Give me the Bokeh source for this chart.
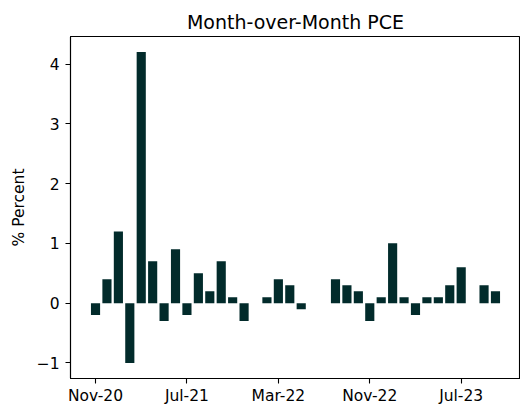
from datetime import datetime
from bokeh.plotting import figure
from bokeh.models import FixedTicker, Range1d, ColumnDataSource
from bokeh.embed import file_html
from bokeh.resources import INLINE

# ---- data ----
months = ["2020-11", "2020-12", "2021-01", "2021-02", "2021-03", "2021-04",
          "2021-05", "2021-06", "2021-07", "2021-08", "2021-09", "2021-10",
          "2021-11", "2021-12", "2022-01", "2022-02", "2022-03", "2022-04",
          "2022-05", "2022-06", "2022-07", "2022-08", "2022-09", "2022-10",
          "2022-11", "2022-12", "2023-01", "2023-02", "2023-03", "2023-04",
          "2023-05", "2023-06", "2023-07", "2023-08", "2023-09", "2023-10"]
pce_mom = [-0.2, 0.4, 1.2, -1.0, 4.2, 0.7,
           -0.3, 0.9, -0.2, 0.5, 0.2, 0.7,
           0.1, -0.3, 0.0, 0.1, 0.4, 0.3,
           -0.1, 0.0, 0.0, 0.4, 0.3, 0.2,
           -0.3, 0.1, 1.0, 0.1, -0.2, 0.1,
           0.1, 0.3, 0.6, 0.0, 0.3, 0.2]
x_tick_labels = ["Nov-20", "Jul-21", "Mar-22", "Nov-22", "Jul-23"]
y_ticks = [-1, 0, 1, 2, 3, 4]

BASE = datetime(2020, 11, 1)


def month_index(d):
    return (d.year - BASE.year) * 12 + (d.month - BASE.month)


x = [month_index(datetime.strptime(m, "%Y-%m")) for m in months]
x_tick_pos = [month_index(datetime.strptime(t, "%b-%y")) for t in x_tick_labels]

bar_w = 0.8
x0, x1 = min(x) - bar_w / 2, max(x) + bar_w / 2
xpad = 0.05 * (x1 - x0)
y0, y1 = min(pce_mom + [0]), max(pce_mom + [0])
ypad = 0.05 * (y1 - y0)

src = ColumnDataSource(dict(x=x, top=pce_mom))

FONT = "DejaVu Sans"
TICK_SIZE = "15.5px"

p = figure(width=520, height=410, output_backend="svg", toolbar_location=None,
           x_range=Range1d(x0 - xpad, x1 + xpad), y_range=Range1d(y0 - ypad, y1 + ypad),
           min_border_left=70, min_border_right=0, min_border_top=36, min_border_bottom=32,
           title="Month-over-Month PCE")
p.outline_line_color = "black"
p.outline_line_width = 1.1
p.background_fill_color = "white"
p.border_fill_color = "white"
p.grid.visible = False

p.title.text_font = FONT
p.title.text_font_size = "19px"
p.title.text_font_style = "normal"
p.title.align = "center"
p.title.text_color = "black"
p.title.standoff = 8

p.vbar(x="x", top="top", bottom=0, width=bar_w, source=src,
       fill_color="#022b2b", line_color=None)

# bottom axis
xa = p.xaxis[0]
xa.ticker = FixedTicker(ticks=x_tick_pos)
xa.major_label_overrides = {pos: lab for pos, lab in zip(x_tick_pos, x_tick_labels)}
# left axis
ya = p.yaxis[0]
ya.ticker = FixedTicker(ticks=y_ticks)
ya.major_label_overrides = {t: (str(t).replace("-", "\u2212")) for t in y_ticks}
ya.axis_label = "% Percent"
ya.axis_label_text_font_style = "normal"
ya.axis_label_standoff = 6

for ax in (xa, ya):
    ax.minor_tick_line_color = None
    ax.major_tick_out = 5
    ax.major_tick_in = 0
    ax.major_label_text_font = FONT
    ax.major_label_text_font_size = TICK_SIZE
    ax.major_label_text_color = "black"
    ax.axis_label_text_font = FONT
    ax.axis_label_text_font_size = TICK_SIZE
    ax.axis_label_text_color = "black"
    ax.axis_line_color = "black"
    ax.axis_line_width = 1.1
    ax.major_tick_line_color = "black"
    ax.major_tick_line_width = 1.1
xa.major_label_standoff = 3
ya.major_label_standoff = 6

open("out.html", "w").write(file_html(p, INLINE))
